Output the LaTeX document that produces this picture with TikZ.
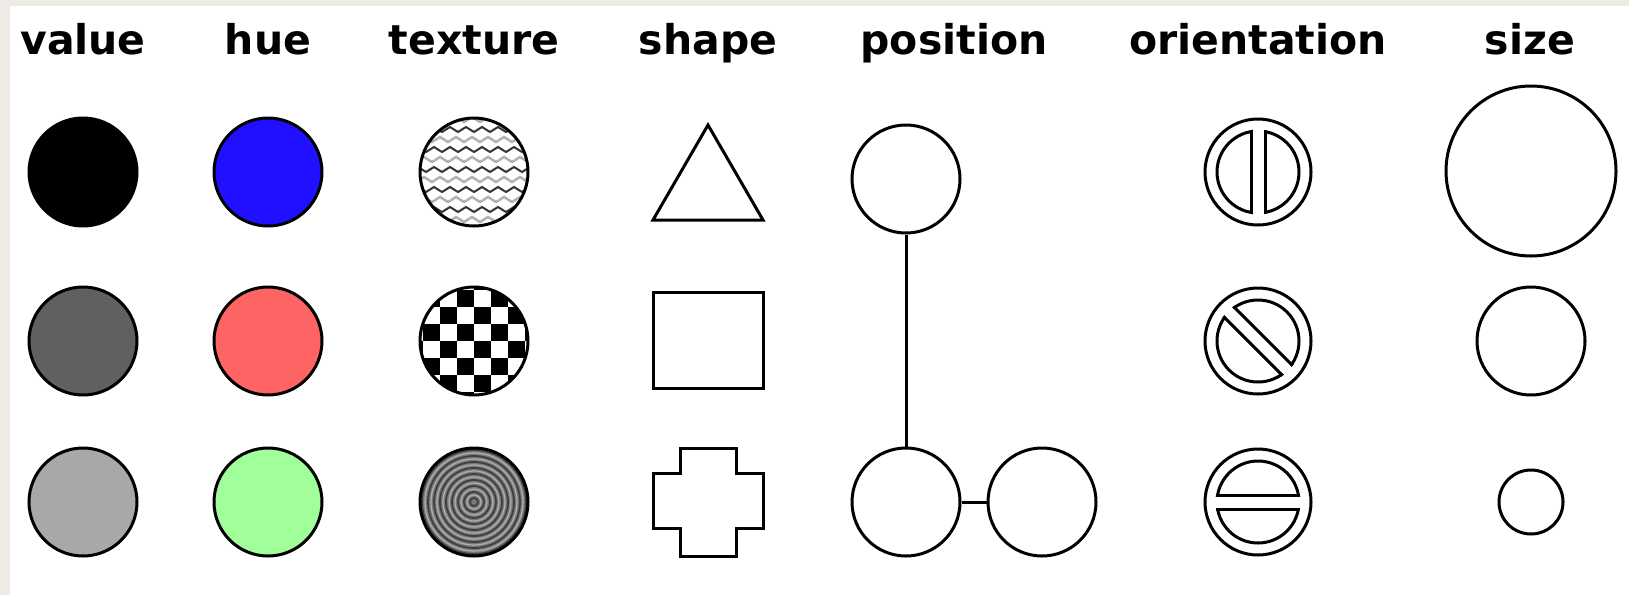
\documentclass[tikz,border=0pt]{standalone}
\usepackage{fontspec}
\setmainfont{DejaVu Sans}
\definecolor{beige}{HTML}{EEEBE4}
\definecolor{valmid}{HTML}{606060}
\definecolor{vallight}{HTML}{A8A8A8}
\definecolor{hueblue}{HTML}{2010FF}
\definecolor{huered}{HTML}{FF6464}
\definecolor{huegreen}{HTML}{A0FF98}
\definecolor{texgray}{HTML}{7A7A7A}
\definecolor{texdark}{HTML}{404040}
\definecolor{texlight}{HTML}{B0B0B0}
\begin{document}
\begin{tikzpicture}[x=1pt,y=-1pt,
  title/.style={anchor=base, font=\fontsize{41}{49}\selectfont\bfseries, inner sep=0pt},
  lw/.style={line width=3pt},
  dot/.style={circle, draw=black, lw, minimum size=108pt, inner sep=0pt},
  box/.style={rectangle, draw=black, lw, inner sep=0pt},
  link/.style={draw=black, lw}]
\useasboundingbox (0,0) rectangle (1629,595);
\fill[beige] (0,0) rectangle (1629,595);
\fill[white] (10,6) rectangle (1629,595);

% titles
\node[title] (tv) at (83,54) {value};
\node[title] (th) at (268,54) {hue};
\node[title] (tt) at (474,54) {texture};
\node[title] (ts) at (708,54) {shape};
\node[title] (tp) at (954,54) {position};
\node[title] (to) at (1258,54) {orientation};
\node[title] (tz) at (1530,54) {size};

% value
\node[dot, fill=black] (v1) at (83,172) {};
\node[dot, fill=valmid] (v2) at (83,341) {};
\node[dot, fill=vallight] (v3) at (83,502) {};

% hue
\node[dot, fill=hueblue] (h1) at (268,172) {};
\node[dot, fill=huered] (h2) at (268,341) {};
\node[dot, fill=huegreen] (h3) at (268,502) {};

% texture 1: zigzag
\begin{scope}
  \clip (474,172) circle (54);
  \fill[white] (474,172) circle (54);
  \foreach \k in {0,...,12}{
    \pgfmathtruncatemacro\kodd{mod(\k,2)}
    \ifnum\kodd=0
      \draw[black!80, line width=2pt] ({474-64},{172-60+\k*10}) \foreach \m in {1,...,8}{ -- ++(8,-5) -- ++(8,5)};
    \else
      \draw[gray!60, line width=2.5pt] ({474-58},{172-60+\k*10}) \foreach \m in {1,...,8}{ -- ++(8,-5) -- ++(8,5)};
    \fi
  }
\end{scope}
\node[dot] (t1) at (474,172) {};

% texture 2: checkerboard
\begin{scope}
  \clip (474,341) circle (54);
  \fill[white] (474,341) circle (54);
  \foreach \i in {-4,...,3}{
    \foreach \j in {-4,...,3}{
      \pgfmathtruncatemacro\cpar{mod(\i+\j+8,2)}
      \ifnum\cpar=0
        \fill[black] ({474+\i*17},{341+\j*17}) rectangle ++(17,17);
      \fi
    }
  }
\end{scope}
\node[dot] (t2) at (474,341) {};

% texture 3: gray ripples
\begin{scope}
  \clip (474,502) circle (54);
  \fill[texgray] (474,502) circle (54);
  \foreach \rr in {4,10,...,58}{
    \draw[texdark, line width=1.8pt] (474,502) circle (\rr);
  }
  \foreach \rr in {7,13,...,58}{
    \draw[texlight, line width=1.2pt] (474,502) circle (\rr);
  }
\end{scope}
\node[dot] (t3) at (474,502) {};

% shape
\draw[lw, line join=miter] (708,125) -- (763,220) -- (653,220) -- cycle;
\node[box, minimum width=110pt, minimum height=96pt] (s2) at (708,340) {};
\draw[lw, line join=miter] (680,448) -- (736,448) -- (736,473) -- (763,473) -- (763,528)
  -- (736,528) -- (736,556) -- (680,556) -- (680,528) -- (653,528) -- (653,473) -- (680,473) -- cycle;

% position
\node[dot] (p1) at (906,179) {};
\node[dot] (p2) at (906,502) {};
\node[dot] (p3) at (1042,502) {};
\draw[link] (p1) -- (p2);
\draw[link] (p2) -- (p3);

% orientation
\foreach \cy/\ang/\i in {172/0/1, 341/45/2, 502/90/3}{
  \begin{scope}[shift={(1258,\cy)}, rotate=\ang]
    \node[dot, minimum size=106pt] (o\i) at (0,0) {};
    \draw[lw] (0,0) circle (41);
    \fill[white] (-5.5,-45) rectangle (5.5,45);
    \begin{scope}
      \clip (0,0) circle (42.5);
      \draw[lw] (-7,-46) -- (-7,46);
      \draw[lw] (7,-46) -- (7,46);
    \end{scope}
  \end{scope}
}

% size
\node[dot, minimum size=170pt] (z1) at (1531,171) {};
\node[dot] (z2) at (1531,341) {};
\node[dot, minimum size=64pt] (z3) at (1531,502) {};
\end{tikzpicture}
\end{document}
